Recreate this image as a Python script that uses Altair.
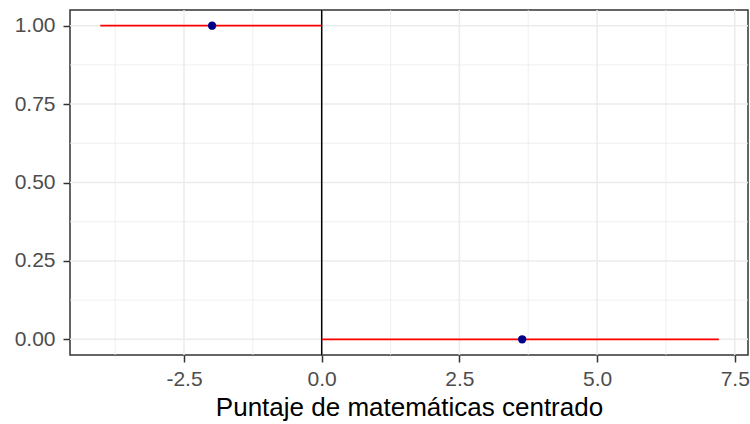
import altair as alt
import pandas as pd

# Data
seg_x = [-4.02, 0.0]
seg_x2 = [0.0, 7.21]
seg_y = [1.0, 0.0]
pt_x = [-1.99, 3.64]
pt_y = [1.0, 0.0]
vline_x = [0.0]
x_major = [-2.5, 0.0, 2.5, 5.0, 7.5]
x_minor = [-3.75, -1.25, 1.25, 3.75, 6.25]
y_major = [0.0, 0.25, 0.5, 0.75, 1.0]
y_minor = [0.125, 0.375, 0.625, 0.875]

X_DOMAIN = [-4.57, 7.74]
Y_DOMAIN = [-0.05, 1.05]
FONT = "Liberation Sans"

xs = alt.Scale(domain=X_DOMAIN, nice=False, zero=False)
ys = alt.Scale(domain=Y_DOMAIN, nice=False, zero=False)

segs = pd.DataFrame({"x": seg_x, "x2": seg_x2, "y": seg_y})
pts = pd.DataFrame({"x": pt_x, "y": pt_y})
vline = pd.DataFrame({"x": vline_x})
xmaj = pd.DataFrame({"x": x_major})
xmin = pd.DataFrame({"x": x_minor})
ymaj = pd.DataFrame({"y": y_major})
ymin = pd.DataFrame({"y": y_minor})

x_axis = alt.Axis(values=x_major,
                  labelExpr="(datum.value < 0 ? '-' : '') + format(abs(datum.value), '.1f')",
                  grid=False, domain=False,
                  tickColor="#333333", tickSize=7, tickWidth=1.5,
                  labelColor="#4D4D4D", labelFontSize=21, labelFont=FONT,
                  labelPadding=6, title="Puntaje de matemáticas centrado",
                  titleFont=FONT, titleFontSize=26, titleFontWeight="normal",
                  titleColor="#000000", titlePadding=5, labelFlush=False)
y_axis = alt.Axis(values=y_major, format=".2f", grid=False, domain=False,
                  tickColor="#333333", tickSize=7, tickWidth=1.5,
                  labelColor="#4D4D4D", labelFontSize=21, labelFont=FONT,
                  labelPadding=8, title=None, labelFlush=False)

minor_x = alt.Chart(xmin).mark_rule(color="#EBEBEB", strokeWidth=0.8).encode(
    x=alt.X("x:Q", scale=xs, axis=x_axis))
major_x = alt.Chart(xmaj).mark_rule(color="#EBEBEB", strokeWidth=1.5).encode(
    x=alt.X("x:Q", scale=xs))
minor_y = alt.Chart(ymin).mark_rule(color="#EBEBEB", strokeWidth=0.8).encode(
    y=alt.Y("y:Q", scale=ys, axis=y_axis))
major_y = alt.Chart(ymaj).mark_rule(color="#EBEBEB", strokeWidth=1.5).encode(
    y=alt.Y("y:Q", scale=ys))
vl = alt.Chart(vline).mark_rule(color="#000000", strokeWidth=1.5).encode(
    x=alt.X("x:Q", scale=xs))
red = alt.Chart(segs).mark_rule(color="#FF0000", strokeWidth=1.8).encode(
    x=alt.X("x:Q", scale=xs), x2="x2:Q", y=alt.Y("y:Q", scale=ys))
dots = alt.Chart(pts).mark_circle(color="#00008B", size=70, opacity=1).encode(
    x=alt.X("x:Q", scale=xs), y=alt.Y("y:Q", scale=ys))

chart = alt.layer(minor_x, major_x, minor_y, major_y, vl, red, dots).properties(
    width=678, height=345,
    autosize=alt.AutoSizeParams(type="none"),
    padding={"left": 70, "top": 10, "right": 2, "bottom": 69},
    background="#FFFFFF",
).configure_view(stroke="#333333", strokeWidth=1.5)

chart.save("out.html", embed_options={"renderer": "svg", "actions": False})
